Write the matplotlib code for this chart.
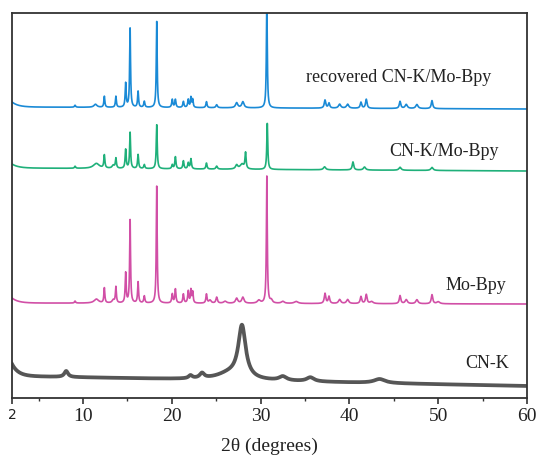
import numpy as np
import matplotlib
matplotlib.use("Agg")
import matplotlib.pyplot as plt

# ---------------- data ----------------
# peak positions (2theta, deg), heights (a.u.), widths (FWHM, deg)
mo_pos = [9.1, 11.5, 12.4, 13.4, 13.7, 14.8, 15.3, 16.2, 16.9, 18.3, 20.05, 20.4, 21.3,
          21.85, 22.15, 22.35, 23.9, 24.3, 25.05, 26.0, 27.3, 28.0, 29.8, 30.7, 31.2,
          32.5, 34.0, 37.25, 37.7, 38.9, 39.8, 41.3, 41.9, 42.5, 45.7, 46.4, 47.6, 49.3, 50.0]
mo_h = [2, 4, 15, 3, 16, 30, 83, 21, 7, 117, 9, 14, 9,
        12, 13, 11, 9, 3, 6, 2, 5, 6, 3, 127, 3,
        2, 2, 10, 7, 4, 4, 7, 9, 2, 8, 4, 4, 9, 2]
mo_w = [0.15, 0.6, 0.13, 0.3, 0.13, 0.13, 0.12, 0.13, 0.15, 0.12, 0.15, 0.15, 0.15,
        0.15, 0.13, 0.13, 0.15, 0.3, 0.2, 0.4, 0.3, 0.3, 0.4, 0.12, 0.3,
        0.4, 0.5, 0.2, 0.2, 0.3, 0.3, 0.2, 0.2, 0.4, 0.2, 0.3, 0.3, 0.2, 0.4]
mo_base = [100, 95, 94]   # level at 2deg, level after low-angle drop, level at 60deg

cnmo_pos = [9.1, 11.5, 12.4, 13.4, 13.7, 14.8, 15.3, 16.2, 16.9, 18.3, 20.05, 20.4, 21.3,
            21.85, 22.15, 23.9, 25.05, 27.3, 27.9, 28.3, 30.75, 37.2, 40.4, 41.7, 45.7, 49.3]
cnmo_h = [2, 5, 13, 3, 10, 19, 36, 14, 4, 44, 4, 12, 8,
          6, 10, 6, 3, 4, 5, 16, 46, 3, 8, 3, 3, 3]
cnmo_w = [0.15, 0.8, 0.14, 0.3, 0.14, 0.14, 0.13, 0.14, 0.15, 0.13, 0.15, 0.15, 0.15,
          0.15, 0.15, 0.15, 0.2, 0.3, 0.5, 0.15, 0.13, 0.3, 0.2, 0.3, 0.3, 0.3]
cnmo_base = [234, 230, 227]

rec_pos = [9.1, 11.4, 12.4, 13.7, 14.8, 15.3, 16.2, 16.9, 18.3, 20.05, 20.4, 21.3, 21.85,
           22.15, 22.35, 23.9, 25.05, 27.3, 28.0, 30.7, 37.25, 37.7, 38.9, 39.8, 41.3,
           41.9, 45.7, 46.4, 47.6, 49.3]
rec_h = [2, 3, 11, 11, 24, 79, 16, 6, 86, 8, 8, 6, 8,
         10, 8, 6, 3, 5, 6, 110, 8, 5, 4, 4, 6,
         9, 7, 4, 4, 8]
rec_w = [0.15, 0.4, 0.13, 0.13, 0.13, 0.12, 0.13, 0.15, 0.12, 0.15, 0.15, 0.15, 0.15,
         0.13, 0.13, 0.15, 0.2, 0.3, 0.3, 0.12, 0.2, 0.2, 0.3, 0.3, 0.2,
         0.2, 0.2, 0.3, 0.3, 0.2]
rec_base = [296, 291, 289]

cnk_pos = [8.1, 22.1, 23.4, 26.5, 27.9, 32.5, 35.6, 43.4]
cnk_h = [6, 3, 5, 6, 52, 4, 4, 4]
cnk_w = [0.5, 0.5, 0.6, 3.5, 1.0, 1.0, 1.0, 1.5]
cnk_base = [34, 22, 12]

labels = ["recovered CN-K/Mo-Bpy", "CN-K/Mo-Bpy", "Mo-Bpy", "CN-K"]
label_x = [45.5, 50.6, 54.3, 55.5]
label_y = [321, 246, 113, 34]

xticks = [2, 10, 20, 30, 40, 50, 60]
xlabel = "2\u03b8 (degrees)"

colors = ["#1a8ad6", "#1fb07a", "#d14fa6", "#565656"]

# ---------------- build curves ----------------
x = np.arange(2, 60.001, 0.01)


def pattern(pos, h, w, base):
    y = base[2] + (base[1] - base[2]) * (60 - x) / 58.0
    y = y + (base[0] - base[1]) * np.exp(-(x - 2) / 0.7)
    for p, a, fw in zip(pos, h, w):
        g = fw / 2.0
        y = y + a * g * g / ((x - p) ** 2 + g * g)
    return y


curves = [pattern(rec_pos, rec_h, rec_w, rec_base),
          pattern(cnmo_pos, cnmo_h, cnmo_w, cnmo_base),
          pattern(mo_pos, mo_h, mo_w, mo_base),
          pattern(cnk_pos, cnk_h, cnk_w, cnk_base)]

# ---------------- draw ----------------
fig = plt.figure(figsize=(5.37, 4.61), dpi=100)
ax = fig.add_axes([12 / 537, 1 - 398 / 461, 515 / 537, 385 / 461])

lws = [1.2, 1.2, 1.2, 2.7]
for c, col, lw in zip(curves, colors, lws):
    ax.plot(x, c, color=col, lw=lw)

for t, lx, ly in zip(labels, label_x, label_y):
    ax.text(lx, ly, t, ha="center", va="center", fontsize=13,
            family="Liberation Serif", color="#222222")

ax.set_xlim(2, 60)
ax.set_ylim(0, 385)
ax.set_yticks([])
ax.set_xticks(xticks)
ax.set_xticks([5, 15, 25, 35, 45, 55], minor=True)
ax.set_xticklabels([str(t) for t in xticks])
for lab in ax.get_xticklabels():
    lab.set_family("Liberation Serif")
    lab.set_fontsize(14)
first = ax.get_xticklabels()[0]
first.set_family("DejaVu Sans")
first.set_fontsize(10)
ax.tick_params(axis="x", which="major", direction="out", length=4, width=1.2,
               color="#333333", pad=3, labelcolor="#222222")
ax.tick_params(axis="x", which="minor", direction="out", length=2.5, width=1.0,
               color="#333333")
for s in ax.spines.values():
    s.set_linewidth(1.3)
    s.set_color("#333333")

ax.set_xlabel(xlabel, family="Liberation Serif", fontsize=14, color="#222222",
              labelpad=9)

fig.savefig("out.png", dpi=100)
